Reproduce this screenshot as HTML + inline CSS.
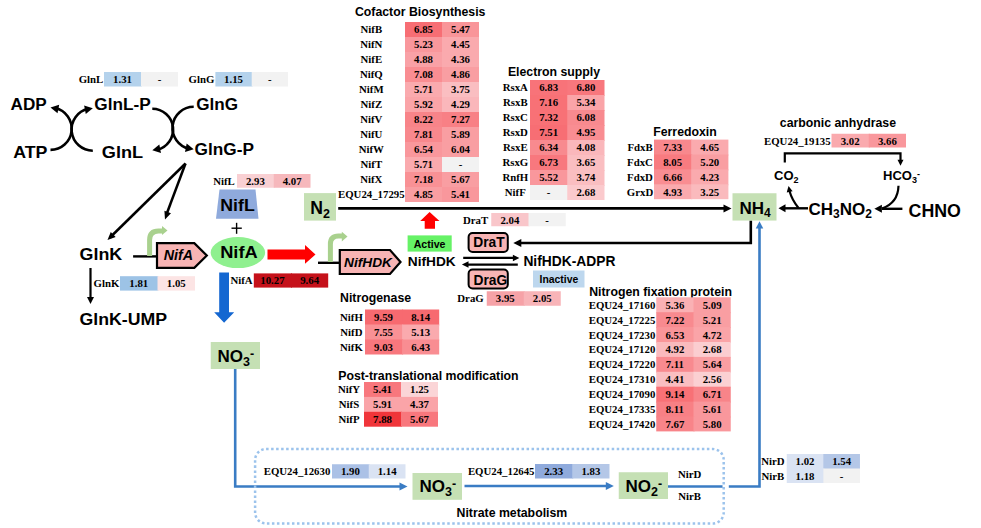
<!DOCTYPE html>
<html><head><meta charset="utf-8"><style>
html,body{margin:0;padding:0;background:#fff;width:981px;height:528px;overflow:hidden}
svg{display:block}
</style></head><body>
<svg width="981" height="528" viewBox="0 0 981 528">
<rect x="0" y="0" width="981" height="528" fill="#fff" />
<rect x="104" y="72.0" width="38.0" height="14.5" fill="#b4d2ec" />
<rect x="141" y="72.0" width="37" height="14.5" fill="#f2f2f2" />
<text x="91" y="83.21400000000001" font-family="'Liberation Serif', serif" font-size="10.8" font-weight="bold" font-style="normal" text-anchor="middle" fill="#000" >GlnL</text>
<text x="122.5" y="83.21400000000001" font-family="'Liberation Serif', serif" font-size="10.8" font-weight="bold" font-style="normal" text-anchor="middle" fill="#000" >1.31</text>
<text x="159.5" y="83.21400000000001" font-family="'Liberation Serif', serif" font-size="10.8" font-weight="bold" font-style="normal" text-anchor="middle" fill="#000" >-</text>
<rect x="215.4" y="72.0" width="37.3" height="14.5" fill="#b4d2ec" />
<rect x="251.7" y="72.0" width="36.3" height="14.5" fill="#f2f2f2" />
<text x="201.5" y="83.21400000000001" font-family="'Liberation Serif', serif" font-size="10.8" font-weight="bold" font-style="normal" text-anchor="middle" fill="#000" >GlnG</text>
<text x="233.55" y="83.21400000000001" font-family="'Liberation Serif', serif" font-size="10.8" font-weight="bold" font-style="normal" text-anchor="middle" fill="#000" >1.15</text>
<text x="269.85" y="83.21400000000001" font-family="'Liberation Serif', serif" font-size="10.8" font-weight="bold" font-style="normal" text-anchor="middle" fill="#000" >-</text>
<text transform="translate(10.6,110) scale(1.02,1)" font-family="'Liberation Sans', sans-serif" font-size="16.8" font-weight="bold" font-style="normal" text-anchor="start" fill="#000" >ADP</text>
<text transform="translate(94.3,110) scale(1.025,1)" font-family="'Liberation Sans', sans-serif" font-size="16.8" font-weight="bold" font-style="normal" text-anchor="start" fill="#000" >GlnL-P</text>
<text transform="translate(196.3,110) scale(1.02,1)" font-family="'Liberation Sans', sans-serif" font-size="16.8" font-weight="bold" font-style="normal" text-anchor="start" fill="#000" >GlnG</text>
<text transform="translate(13.2,158) scale(1.06,1)" font-family="'Liberation Sans', sans-serif" font-size="16.8" font-weight="bold" font-style="normal" text-anchor="start" fill="#000" >ATP</text>
<text transform="translate(101.8,158) scale(1.08,1)" font-family="'Liberation Sans', sans-serif" font-size="16.8" font-weight="bold" font-style="normal" text-anchor="start" fill="#000" >GlnL</text>
<text transform="translate(194.6,154.7) scale(1.025,1)" font-family="'Liberation Sans', sans-serif" font-size="16.8" font-weight="bold" font-style="normal" text-anchor="start" fill="#000" >GlnG-P</text>
<path d="M50.50,149.90 A21.2,21.2 0 0 0 55.26,108.04" stroke="#000" stroke-width="2.6" fill="none" />
<polygon points="50.50,107.50 59.18,104.68 57.53,113.32" fill="#000"/>
<path d="M92.80,150.70 A21.2,21.2 0 0 1 88.04,108.84" stroke="#000" stroke-width="2.6" fill="none" />
<polygon points="92.80,108.30 85.77,114.12 84.12,105.48" fill="#000"/>
<path d="M152.30,108.70 A20.8,20.8 0 0 1 157.06,149.75" stroke="#000" stroke-width="2.6" fill="none" />
<polygon points="152.30,150.30 159.31,144.45 160.99,153.09" fill="#000"/>
<path d="M193.70,106.80 A21.2,21.2 0 0 0 188.94,148.66" stroke="#000" stroke-width="2.6" fill="none" />
<polygon points="193.70,149.20 185.02,152.02 186.67,143.38" fill="#000"/>
<line x1="185.5" y1="163.5" x2="110" y2="237.5" stroke="#000" stroke-width="2.5" />
<polygon points="107.50,240.00 110.76,231.90 115.66,236.90" fill="#000"/>
<line x1="185.5" y1="163.5" x2="167" y2="213" stroke="#000" stroke-width="2.5" />
<polygon points="165.00,219.50 164.42,210.79 171.00,213.16" fill="#000"/>
<text transform="translate(79.5,260) scale(1.065,1)" font-family="'Liberation Sans', sans-serif" font-size="16.8" font-weight="bold" font-style="normal" text-anchor="start" fill="#000" >GlnK</text>
<line x1="90.5" y1="268" x2="90.5" y2="297" stroke="#000" stroke-width="2.2" />
<polygon points="90.50,304.00 87.00,297.00 94.00,297.00" fill="#000"/>
<rect x="120" y="276.2" width="38.5" height="14.4" fill="#9dc3e6" />
<rect x="157.5" y="276.2" width="37.5" height="14.4" fill="#fce4e4" />
<text x="106.5" y="287.364" font-family="'Liberation Serif', serif" font-size="10.8" font-weight="bold" font-style="normal" text-anchor="middle" fill="#000" >GlnK</text>
<text x="138.75" y="287.364" font-family="'Liberation Serif', serif" font-size="10.8" font-weight="bold" font-style="normal" text-anchor="middle" fill="#000" >1.81</text>
<text x="176.25" y="287.364" font-family="'Liberation Serif', serif" font-size="10.8" font-weight="bold" font-style="normal" text-anchor="middle" fill="#000" >1.05</text>
<text transform="translate(79.5,324.5) scale(1.055,1)" font-family="'Liberation Sans', sans-serif" font-size="16.8" font-weight="bold" font-style="normal" text-anchor="start" fill="#000" >GlnK-UMP</text>
<line x1="133.1" y1="256.4" x2="156" y2="256.4" stroke="#000" stroke-width="2.4" />
<path d="M149.6,256 L149.6,240 Q149.6,231 158.5,231 L163,231" stroke="#a9d18e" stroke-width="5" fill="none" />
<polygon points="167.5,230.5 162,226 162,235" fill="#a9d18e"/>
<polygon points="157,243.2 194.3,243.2 206.8,255.5 194.3,267.8 157,267.8" fill="#f8b4b4" stroke="#000" stroke-width="2.2" stroke-linejoin="miter"/>
<text x="178.4" y="259.6" font-family="'Liberation Sans', sans-serif" font-size="14.3" font-weight="bold" font-style="italic" text-anchor="middle" fill="#000" >NifA</text>
<rect x="237" y="174.0" width="37.75" height="13.75" fill="#f9d0d3" />
<rect x="273.75" y="174.0" width="36.75" height="13.75" fill="#f6b8bc" />
<text x="224" y="184.839" font-family="'Liberation Serif', serif" font-size="10.8" font-weight="bold" font-style="normal" text-anchor="middle" fill="#000" >NifL</text>
<text x="255.375" y="184.839" font-family="'Liberation Serif', serif" font-size="10.8" font-weight="bold" font-style="normal" text-anchor="middle" fill="#000" >2.93</text>
<text x="292.125" y="184.839" font-family="'Liberation Serif', serif" font-size="10.8" font-weight="bold" font-style="normal" text-anchor="middle" fill="#000" >4.07</text>
<polygon points="219.5,189.5 255.5,189.5 258.5,218.75 216,218.75" fill="#8faadc"/>
<text transform="translate(237.5,211.3) scale(1.02,1)" font-family="'Liberation Sans', sans-serif" font-size="17.4" font-weight="bold" font-style="normal" text-anchor="middle" fill="#000" >NifL</text>
<line x1="231.5" y1="228.2" x2="241.8" y2="228.2" stroke="#000" stroke-width="1.4" />
<line x1="236.6" y1="222.8" x2="236.6" y2="233.8" stroke="#000" stroke-width="1.4" />
<ellipse cx="237.9" cy="252.6" rx="27.2" ry="15.5" fill="#8ff08f"/>
<text transform="translate(238.9,257.9) scale(1.05,1)" font-family="'Liberation Sans', sans-serif" font-size="17.4" font-weight="bold" font-style="normal" text-anchor="middle" fill="#000" >NifA</text>
<polygon points="267.5,249.5 305,249.5 305,245 315.5,254.5 305,263.8 305,259.5 267.5,259.5" fill="#ff0000"/>
<rect x="253.8" y="273.4" width="38.2" height="14.2" fill="#c5111a" />
<rect x="291.0" y="273.4" width="37.2" height="14.2" fill="#c5111a" />
<text x="241.5" y="284.464" font-family="'Liberation Serif', serif" font-size="10.8" font-weight="bold" font-style="normal" text-anchor="middle" fill="#000" >NifA</text>
<text x="272.40000000000003" y="284.464" font-family="'Liberation Serif', serif" font-size="10.8" font-weight="bold" font-style="normal" text-anchor="middle" fill="#000" >10.27</text>
<text x="309.6" y="284.464" font-family="'Liberation Serif', serif" font-size="10.8" font-weight="bold" font-style="normal" text-anchor="middle" fill="#000" >9.64</text>
<polygon points="219.2,272.4 229,272.4 229,312.2 234.2,312.2 224.1,322.7 214.2,312.2 219.2,312.2" fill="#1467d1"/>
<rect x="304" y="193.1" width="32" height="27.5" fill="#c5e0b4" />
<text x="310.3" y="214" font-family="'Liberation Sans', sans-serif" font-size="17.6" font-weight="bold" font-style="normal" text-anchor="start" fill="#000" >N<tspan font-size="12.5" dy="4.2">2</tspan></text>
<line x1="338.2" y1="208.4" x2="725" y2="208.4" stroke="#000" stroke-width="2.6" />
<polygon points="731.50,208.40 723.50,212.40 723.50,204.40" fill="#000"/>
<line x1="318" y1="262.8" x2="339" y2="262.8" stroke="#000" stroke-width="2.4" />
<path d="M330.4,262 L330.4,244 Q330.4,236 338.5,236 L342.5,236" stroke="#a9d18e" stroke-width="5" fill="none" />
<polygon points="347.5,236.5 341.8,231.7 341.8,241.5" fill="#a9d18e"/>
<polygon points="339.8,250 390,250 400.5,262 390,274 339.8,274" fill="#f8b4b4" stroke="#000" stroke-width="2.2"/>
<text x="368" y="266.9" font-family="'Liberation Sans', sans-serif" font-size="13.7" font-weight="bold" font-style="italic" text-anchor="middle" fill="#000" >NifHDK</text>
<polygon points="429.6,212 439.5,221 435,221 435,228.7 424.7,228.7 424.7,221 420.2,221" fill="#ff0000"/>
<rect x="407.6" y="235.4" width="44.1" height="16.2" fill="#66f266" />
<text x="429.6" y="248" font-family="'Liberation Sans', sans-serif" font-size="10.6" font-weight="bold" font-style="normal" text-anchor="middle" fill="#000" >Active</text>
<text x="431.8" y="266.2" font-family="'Liberation Sans', sans-serif" font-size="13.7" font-weight="bold" font-style="normal" text-anchor="middle" fill="#000" >NifHDK</text>
<rect x="491.25" y="213.0" width="38.25" height="13.25" fill="#f9c6ca" />
<rect x="528.5" y="213.0" width="37.25" height="13.25" fill="#f2f2f2" />
<text x="475.6" y="223.589" font-family="'Liberation Serif', serif" font-size="10.8" font-weight="bold" font-style="normal" text-anchor="middle" fill="#000" >DraT</text>
<text x="509.875" y="223.589" font-family="'Liberation Serif', serif" font-size="10.8" font-weight="bold" font-style="normal" text-anchor="middle" fill="#000" >2.04</text>
<text x="547.125" y="223.589" font-family="'Liberation Serif', serif" font-size="10.8" font-weight="bold" font-style="normal" text-anchor="middle" fill="#000" >-</text>
<rect x="468.6" y="233" width="39.2" height="19" rx="4" fill="#f8b4b4" stroke="#000" stroke-width="2"/>
<text x="488.9" y="247" font-family="'Liberation Sans', sans-serif" font-size="13.8" font-weight="bold" font-style="normal" text-anchor="middle" fill="#000" >DraT</text>
<rect x="468.6" y="269.5" width="39.2" height="19" rx="4" fill="#f8b4b4" stroke="#000" stroke-width="2"/>
<text x="490.4" y="284.5" font-family="'Liberation Sans', sans-serif" font-size="13.8" font-weight="bold" font-style="normal" text-anchor="middle" fill="#000" >DraG</text>
<line x1="463.2" y1="257.9" x2="513" y2="257.9" stroke="#000" stroke-width="2.2" />
<polygon points="519.4,257.9 512.9,254.8 512.9,261.3" fill="#000"/>
<line x1="517.8" y1="264.6" x2="468" y2="264.6" stroke="#000" stroke-width="2.2" />
<polygon points="461.9,264.6 468.5,261.3 468.5,267.8" fill="#000"/>
<text x="569.4" y="266.25" font-family="'Liberation Sans', sans-serif" font-size="13.8" font-weight="bold" font-style="normal" text-anchor="middle" fill="#000" >NifHDK-ADPR</text>
<rect x="533" y="270.5" width="51.5" height="17" fill="#bdd7ee" />
<text x="558.9" y="282.5" font-family="'Liberation Sans', sans-serif" font-size="10.4" font-weight="bold" font-style="normal" text-anchor="middle" fill="#000" >Inactive</text>
<rect x="486.75" y="291.25" width="38.0" height="14.5" fill="#f6a2a7" />
<rect x="523.75" y="291.25" width="37" height="14.5" fill="#f8b4b8" />
<text x="470.5" y="302.464" font-family="'Liberation Serif', serif" font-size="10.8" font-weight="bold" font-style="normal" text-anchor="middle" fill="#000" >DraG</text>
<text x="505.25" y="302.464" font-family="'Liberation Serif', serif" font-size="10.8" font-weight="bold" font-style="normal" text-anchor="middle" fill="#000" >3.95</text>
<text x="542.25" y="302.464" font-family="'Liberation Serif', serif" font-size="10.8" font-weight="bold" font-style="normal" text-anchor="middle" fill="#000" >2.05</text>
<path d="M750.8,220.5 L750.8,243 L520,243" stroke="#000" stroke-width="2.6" fill="none" />
<polygon points="513.30,243.00 521.30,239.00 521.30,247.00" fill="#000"/>
<text x="420.2" y="16" font-family="'Liberation Sans', sans-serif" font-size="12.3" font-weight="bold" font-style="normal" text-anchor="middle" fill="#000" >Cofactor Biosynthesis</text>
<rect x="405" y="22" width="38.0" height="16.0" fill="rgb(247,110,116)" />
<rect x="442" y="22" width="37" height="16.0" fill="rgb(249,149,153)" />
<text x="371.3" y="33.464" font-family="'Liberation Serif', serif" font-size="10.8" font-weight="bold" font-style="normal" text-anchor="middle" fill="#000" >NifB</text>
<text x="423.5" y="33.464" font-family="'Liberation Serif', serif" font-size="10.8" font-weight="bold" font-style="normal" text-anchor="middle" fill="#000" >6.85</text>
<text x="460.5" y="33.464" font-family="'Liberation Serif', serif" font-size="10.8" font-weight="bold" font-style="normal" text-anchor="middle" fill="#000" >5.47</text>
<rect x="405" y="37" width="38.0" height="16.0" fill="rgb(249,151,156)" />
<rect x="442" y="37" width="37" height="16.0" fill="rgb(250,170,174)" />
<text x="371.3" y="48.464" font-family="'Liberation Serif', serif" font-size="10.8" font-weight="bold" font-style="normal" text-anchor="middle" fill="#000" >NifN</text>
<text x="423.5" y="48.464" font-family="'Liberation Serif', serif" font-size="10.8" font-weight="bold" font-style="normal" text-anchor="middle" fill="#000" >5.23</text>
<text x="460.5" y="48.464" font-family="'Liberation Serif', serif" font-size="10.8" font-weight="bold" font-style="normal" text-anchor="middle" fill="#000" >4.45</text>
<rect x="405" y="52" width="38.0" height="16.0" fill="rgb(249,161,166)" />
<rect x="442" y="52" width="37" height="16.0" fill="rgb(250,170,174)" />
<text x="371.3" y="63.464" font-family="'Liberation Serif', serif" font-size="10.8" font-weight="bold" font-style="normal" text-anchor="middle" fill="#000" >NifE</text>
<text x="423.5" y="63.464" font-family="'Liberation Serif', serif" font-size="10.8" font-weight="bold" font-style="normal" text-anchor="middle" fill="#000" >4.88</text>
<text x="460.5" y="63.464" font-family="'Liberation Serif', serif" font-size="10.8" font-weight="bold" font-style="normal" text-anchor="middle" fill="#000" >4.36</text>
<rect x="405" y="67" width="38.0" height="16.0" fill="rgb(249,141,146)" />
<rect x="442" y="67" width="37" height="16.0" fill="rgb(249,158,162)" />
<text x="371.3" y="78.46400000000001" font-family="'Liberation Serif', serif" font-size="10.8" font-weight="bold" font-style="normal" text-anchor="middle" fill="#000" >NifQ</text>
<text x="423.5" y="78.46400000000001" font-family="'Liberation Serif', serif" font-size="10.8" font-weight="bold" font-style="normal" text-anchor="middle" fill="#000" >7.08</text>
<text x="460.5" y="78.46400000000001" font-family="'Liberation Serif', serif" font-size="10.8" font-weight="bold" font-style="normal" text-anchor="middle" fill="#000" >4.86</text>
<rect x="405" y="82" width="38.0" height="16.0" fill="rgb(250,170,174)" />
<rect x="442" y="82" width="37" height="16.0" fill="rgb(250,190,193)" />
<text x="371.3" y="93.46400000000001" font-family="'Liberation Serif', serif" font-size="10.8" font-weight="bold" font-style="normal" text-anchor="middle" fill="#000" >NifM</text>
<text x="423.5" y="93.46400000000001" font-family="'Liberation Serif', serif" font-size="10.8" font-weight="bold" font-style="normal" text-anchor="middle" fill="#000" >5.71</text>
<text x="460.5" y="93.46400000000001" font-family="'Liberation Serif', serif" font-size="10.8" font-weight="bold" font-style="normal" text-anchor="middle" fill="#000" >3.75</text>
<rect x="405" y="97" width="38.0" height="16.0" fill="rgb(250,164,168)" />
<rect x="442" y="97" width="37" height="16.0" fill="rgb(250,183,187)" />
<text x="371.3" y="108.46400000000001" font-family="'Liberation Serif', serif" font-size="10.8" font-weight="bold" font-style="normal" text-anchor="middle" fill="#000" >NifZ</text>
<text x="423.5" y="108.46400000000001" font-family="'Liberation Serif', serif" font-size="10.8" font-weight="bold" font-style="normal" text-anchor="middle" fill="#000" >5.92</text>
<text x="460.5" y="108.46400000000001" font-family="'Liberation Serif', serif" font-size="10.8" font-weight="bold" font-style="normal" text-anchor="middle" fill="#000" >4.29</text>
<rect x="405" y="112" width="38.0" height="16.0" fill="rgb(248,132,137)" />
<rect x="442" y="112" width="37" height="16.0" fill="rgb(248,128,133)" />
<text x="371.3" y="123.46400000000001" font-family="'Liberation Serif', serif" font-size="10.8" font-weight="bold" font-style="normal" text-anchor="middle" fill="#000" >NifV</text>
<text x="423.5" y="123.46400000000001" font-family="'Liberation Serif', serif" font-size="10.8" font-weight="bold" font-style="normal" text-anchor="middle" fill="#000" >8.22</text>
<text x="460.5" y="123.46400000000001" font-family="'Liberation Serif', serif" font-size="10.8" font-weight="bold" font-style="normal" text-anchor="middle" fill="#000" >7.27</text>
<rect x="405" y="127" width="38.0" height="16.0" fill="rgb(248,136,141)" />
<rect x="442" y="127" width="37" height="16.0" fill="rgb(249,158,162)" />
<text x="371.3" y="138.464" font-family="'Liberation Serif', serif" font-size="10.8" font-weight="bold" font-style="normal" text-anchor="middle" fill="#000" >NifU</text>
<text x="423.5" y="138.464" font-family="'Liberation Serif', serif" font-size="10.8" font-weight="bold" font-style="normal" text-anchor="middle" fill="#000" >7.81</text>
<text x="460.5" y="138.464" font-family="'Liberation Serif', serif" font-size="10.8" font-weight="bold" font-style="normal" text-anchor="middle" fill="#000" >5.89</text>
<rect x="405" y="142" width="38.0" height="16.0" fill="rgb(249,151,156)" />
<rect x="442" y="142" width="37" height="16.0" fill="rgb(249,158,162)" />
<text x="371.3" y="153.464" font-family="'Liberation Serif', serif" font-size="10.8" font-weight="bold" font-style="normal" text-anchor="middle" fill="#000" >NifW</text>
<text x="423.5" y="153.464" font-family="'Liberation Serif', serif" font-size="10.8" font-weight="bold" font-style="normal" text-anchor="middle" fill="#000" >6.54</text>
<text x="460.5" y="153.464" font-family="'Liberation Serif', serif" font-size="10.8" font-weight="bold" font-style="normal" text-anchor="middle" fill="#000" >6.04</text>
<rect x="405" y="157" width="38.0" height="16.0" fill="rgb(250,170,174)" />
<rect x="442" y="157" width="37" height="16.0" fill="#f2f2f2" />
<text x="371.3" y="168.464" font-family="'Liberation Serif', serif" font-size="10.8" font-weight="bold" font-style="normal" text-anchor="middle" fill="#000" >NifT</text>
<text x="423.5" y="168.464" font-family="'Liberation Serif', serif" font-size="10.8" font-weight="bold" font-style="normal" text-anchor="middle" fill="#000" >5.71</text>
<text x="460.5" y="168.464" font-family="'Liberation Serif', serif" font-size="10.8" font-weight="bold" font-style="normal" text-anchor="middle" fill="#000" >-</text>
<rect x="405" y="172" width="38.0" height="16.0" fill="rgb(249,145,149)" />
<rect x="442" y="172" width="37" height="16.0" fill="rgb(249,158,162)" />
<text x="371.3" y="183.464" font-family="'Liberation Serif', serif" font-size="10.8" font-weight="bold" font-style="normal" text-anchor="middle" fill="#000" >NifX</text>
<text x="423.5" y="183.464" font-family="'Liberation Serif', serif" font-size="10.8" font-weight="bold" font-style="normal" text-anchor="middle" fill="#000" >7.18</text>
<text x="460.5" y="183.464" font-family="'Liberation Serif', serif" font-size="10.8" font-weight="bold" font-style="normal" text-anchor="middle" fill="#000" >5.67</text>
<rect x="405" y="187" width="38.0" height="15" fill="rgb(249,158,162)" />
<rect x="442" y="187" width="37" height="15" fill="rgb(249,151,156)" />
<text x="371.3" y="198.464" font-family="'Liberation Serif', serif" font-size="10.8" font-weight="bold" font-style="normal" text-anchor="middle" fill="#000" >EQU24_17295</text>
<text x="423.5" y="198.464" font-family="'Liberation Serif', serif" font-size="10.8" font-weight="bold" font-style="normal" text-anchor="middle" fill="#000" >4.85</text>
<text x="460.5" y="198.464" font-family="'Liberation Serif', serif" font-size="10.8" font-weight="bold" font-style="normal" text-anchor="middle" fill="#000" >5.41</text>
<text x="554" y="76.25" font-family="'Liberation Sans', sans-serif" font-size="12.3" font-weight="bold" font-style="normal" text-anchor="middle" fill="#000" >Electron supply</text>
<rect x="530" y="80.0" width="38.25" height="16.0" fill="rgb(248,115,121)" />
<rect x="567.25" y="80.0" width="37.25" height="16.0" fill="rgb(248,119,125)" />
<text x="515.3" y="91.46400000000001" font-family="'Liberation Serif', serif" font-size="10.8" font-weight="bold" font-style="normal" text-anchor="middle" fill="#000" >RsxA</text>
<text x="548.625" y="91.46400000000001" font-family="'Liberation Serif', serif" font-size="10.8" font-weight="bold" font-style="normal" text-anchor="middle" fill="#000" >6.83</text>
<text x="585.875" y="91.46400000000001" font-family="'Liberation Serif', serif" font-size="10.8" font-weight="bold" font-style="normal" text-anchor="middle" fill="#000" >6.80</text>
<rect x="530" y="95.0" width="38.25" height="16.0" fill="rgb(248,113,118)" />
<rect x="567.25" y="95.0" width="37.25" height="16.0" fill="rgb(250,164,168)" />
<text x="515.3" y="106.46400000000001" font-family="'Liberation Serif', serif" font-size="10.8" font-weight="bold" font-style="normal" text-anchor="middle" fill="#000" >RsxB</text>
<text x="548.625" y="106.46400000000001" font-family="'Liberation Serif', serif" font-size="10.8" font-weight="bold" font-style="normal" text-anchor="middle" fill="#000" >7.16</text>
<text x="585.875" y="106.46400000000001" font-family="'Liberation Serif', serif" font-size="10.8" font-weight="bold" font-style="normal" text-anchor="middle" fill="#000" >5.34</text>
<rect x="530" y="110.0" width="38.25" height="16.0" fill="rgb(248,113,118)" />
<rect x="567.25" y="110.0" width="37.25" height="16.0" fill="rgb(248,138,143)" />
<text x="515.3" y="121.46400000000001" font-family="'Liberation Serif', serif" font-size="10.8" font-weight="bold" font-style="normal" text-anchor="middle" fill="#000" >RsxC</text>
<text x="548.625" y="121.46400000000001" font-family="'Liberation Serif', serif" font-size="10.8" font-weight="bold" font-style="normal" text-anchor="middle" fill="#000" >7.32</text>
<text x="585.875" y="121.46400000000001" font-family="'Liberation Serif', serif" font-size="10.8" font-weight="bold" font-style="normal" text-anchor="middle" fill="#000" >6.08</text>
<rect x="530" y="125.0" width="38.25" height="16.0" fill="rgb(247,110,116)" />
<rect x="567.25" y="125.0" width="37.25" height="16.0" fill="rgb(249,141,146)" />
<text x="515.3" y="136.464" font-family="'Liberation Serif', serif" font-size="10.8" font-weight="bold" font-style="normal" text-anchor="middle" fill="#000" >RsxD</text>
<text x="548.625" y="136.464" font-family="'Liberation Serif', serif" font-size="10.8" font-weight="bold" font-style="normal" text-anchor="middle" fill="#000" >7.51</text>
<text x="585.875" y="136.464" font-family="'Liberation Serif', serif" font-size="10.8" font-weight="bold" font-style="normal" text-anchor="middle" fill="#000" >4.95</text>
<rect x="530" y="140.0" width="38.25" height="16.0" fill="rgb(248,138,143)" />
<rect x="567.25" y="140.0" width="37.25" height="16.0" fill="rgb(250,183,187)" />
<text x="515.3" y="151.464" font-family="'Liberation Serif', serif" font-size="10.8" font-weight="bold" font-style="normal" text-anchor="middle" fill="#000" >RsxE</text>
<text x="548.625" y="151.464" font-family="'Liberation Serif', serif" font-size="10.8" font-weight="bold" font-style="normal" text-anchor="middle" fill="#000" >6.34</text>
<text x="585.875" y="151.464" font-family="'Liberation Serif', serif" font-size="10.8" font-weight="bold" font-style="normal" text-anchor="middle" fill="#000" >4.08</text>
<rect x="530" y="155.0" width="38.25" height="16.0" fill="rgb(248,120,126)" />
<rect x="567.25" y="155.0" width="37.25" height="16.0" fill="rgb(250,190,193)" />
<text x="515.3" y="166.464" font-family="'Liberation Serif', serif" font-size="10.8" font-weight="bold" font-style="normal" text-anchor="middle" fill="#000" >RsxG</text>
<text x="548.625" y="166.464" font-family="'Liberation Serif', serif" font-size="10.8" font-weight="bold" font-style="normal" text-anchor="middle" fill="#000" >6.73</text>
<text x="585.875" y="166.464" font-family="'Liberation Serif', serif" font-size="10.8" font-weight="bold" font-style="normal" text-anchor="middle" fill="#000" >3.65</text>
<rect x="530" y="170.0" width="38.25" height="16.0" fill="rgb(249,151,156)" />
<rect x="567.25" y="170.0" width="37.25" height="16.0" fill="rgb(250,190,193)" />
<text x="515.3" y="181.464" font-family="'Liberation Serif', serif" font-size="10.8" font-weight="bold" font-style="normal" text-anchor="middle" fill="#000" >RnfH</text>
<text x="548.625" y="181.464" font-family="'Liberation Serif', serif" font-size="10.8" font-weight="bold" font-style="normal" text-anchor="middle" fill="#000" >5.52</text>
<text x="585.875" y="181.464" font-family="'Liberation Serif', serif" font-size="10.8" font-weight="bold" font-style="normal" text-anchor="middle" fill="#000" >3.74</text>
<rect x="530" y="185.0" width="38.25" height="15.0" fill="#f2f2f2" />
<rect x="567.25" y="185.0" width="37.25" height="15.0" fill="rgb(251,202,205)" />
<text x="515.3" y="196.464" font-family="'Liberation Serif', serif" font-size="10.8" font-weight="bold" font-style="normal" text-anchor="middle" fill="#000" >NifF</text>
<text x="548.625" y="196.464" font-family="'Liberation Serif', serif" font-size="10.8" font-weight="bold" font-style="normal" text-anchor="middle" fill="#000" >-</text>
<text x="585.875" y="196.464" font-family="'Liberation Serif', serif" font-size="10.8" font-weight="bold" font-style="normal" text-anchor="middle" fill="#000" >2.68</text>
<text x="685" y="135.5" font-family="'Liberation Sans', sans-serif" font-size="12.3" font-weight="bold" font-style="normal" text-anchor="middle" fill="#000" >Ferredoxin</text>
<rect x="654" y="139.6" width="38.2" height="15.9" fill="rgb(248,136,141)" />
<rect x="691.2" y="139.6" width="37.2" height="15.9" fill="rgb(250,170,174)" />
<text x="640" y="151.01399999999998" font-family="'Liberation Serif', serif" font-size="10.8" font-weight="bold" font-style="normal" text-anchor="middle" fill="#000" >FdxB</text>
<text x="672.6" y="151.01399999999998" font-family="'Liberation Serif', serif" font-size="10.8" font-weight="bold" font-style="normal" text-anchor="middle" fill="#000" >7.33</text>
<text x="709.8" y="151.01399999999998" font-family="'Liberation Serif', serif" font-size="10.8" font-weight="bold" font-style="normal" text-anchor="middle" fill="#000" >4.65</text>
<rect x="654" y="154.5" width="38.2" height="15.9" fill="rgb(248,123,128)" />
<rect x="691.2" y="154.5" width="37.2" height="15.9" fill="rgb(249,158,162)" />
<text x="640" y="165.914" font-family="'Liberation Serif', serif" font-size="10.8" font-weight="bold" font-style="normal" text-anchor="middle" fill="#000" >FdxC</text>
<text x="672.6" y="165.914" font-family="'Liberation Serif', serif" font-size="10.8" font-weight="bold" font-style="normal" text-anchor="middle" fill="#000" >8.05</text>
<text x="709.8" y="165.914" font-family="'Liberation Serif', serif" font-size="10.8" font-weight="bold" font-style="normal" text-anchor="middle" fill="#000" >5.20</text>
<rect x="654" y="169.4" width="38.2" height="15.9" fill="rgb(249,141,146)" />
<rect x="691.2" y="169.4" width="37.2" height="15.9" fill="rgb(250,170,174)" />
<text x="640" y="180.814" font-family="'Liberation Serif', serif" font-size="10.8" font-weight="bold" font-style="normal" text-anchor="middle" fill="#000" >FdxD</text>
<text x="672.6" y="180.814" font-family="'Liberation Serif', serif" font-size="10.8" font-weight="bold" font-style="normal" text-anchor="middle" fill="#000" >6.66</text>
<text x="709.8" y="180.814" font-family="'Liberation Serif', serif" font-size="10.8" font-weight="bold" font-style="normal" text-anchor="middle" fill="#000" >4.23</text>
<rect x="654" y="184.3" width="38.2" height="14.9" fill="rgb(250,170,174)" />
<rect x="691.2" y="184.3" width="37.2" height="14.9" fill="rgb(250,186,189)" />
<text x="640" y="195.714" font-family="'Liberation Serif', serif" font-size="10.8" font-weight="bold" font-style="normal" text-anchor="middle" fill="#000" >GrxD</text>
<text x="672.6" y="195.714" font-family="'Liberation Serif', serif" font-size="10.8" font-weight="bold" font-style="normal" text-anchor="middle" fill="#000" >4.93</text>
<text x="709.8" y="195.714" font-family="'Liberation Serif', serif" font-size="10.8" font-weight="bold" font-style="normal" text-anchor="middle" fill="#000" >3.25</text>
<text x="837.9" y="126.75" font-family="'Liberation Sans', sans-serif" font-size="12.3" font-weight="bold" font-style="normal" text-anchor="middle" fill="#000" >carbonic anhydrase</text>
<rect x="831.5" y="133.75" width="38.25" height="13.75" fill="rgb(250,170,174)" />
<rect x="868.75" y="133.75" width="37.25" height="13.75" fill="rgb(249,151,156)" />
<text x="797.3" y="144.589" font-family="'Liberation Serif', serif" font-size="10.8" font-weight="bold" font-style="normal" text-anchor="middle" fill="#000" >EQU24_19135</text>
<text x="850.125" y="144.589" font-family="'Liberation Serif', serif" font-size="10.8" font-weight="bold" font-style="normal" text-anchor="middle" fill="#000" >3.02</text>
<text x="887.375" y="144.589" font-family="'Liberation Serif', serif" font-size="10.8" font-weight="bold" font-style="normal" text-anchor="middle" fill="#000" >3.66</text>
<path d="M784.8,162.5 L784.8,153.3 L900.5,153.3 L900.5,160" stroke="#000" stroke-width="2.2" fill="none" />
<polygon points="900.50,165.80 897.50,159.80 903.50,159.80" fill="#000"/>
<text x="774" y="180" font-family="'Liberation Sans', sans-serif" font-size="13" font-weight="bold" font-style="normal" text-anchor="start" fill="#000" >CO<tspan font-size="9" dy="3">2</tspan></text>
<text x="883" y="180" font-family="'Liberation Sans', sans-serif" font-size="13" font-weight="bold" font-style="normal" text-anchor="start" fill="#000" >HCO<tspan font-size="9" dy="3">3</tspan><tspan font-size="9" dy="-6.2">-</tspan></text>
<rect x="732.5" y="193.25" width="44" height="27.3" fill="#c5e0b4" />
<text x="739.5" y="213.75" font-family="'Liberation Sans', sans-serif" font-size="17" font-weight="bold" font-style="normal" text-anchor="start" fill="#000" >NH<tspan font-size="12" dy="3.5">4</tspan></text>
<text x="808.5" y="214.5" font-family="'Liberation Sans', sans-serif" font-size="17" font-weight="bold" font-style="normal" text-anchor="start" fill="#000" >CH<tspan font-size="12" dy="3.5">3</tspan><tspan dy="-3.5">NO</tspan><tspan font-size="12" dy="3.5">2</tspan></text>
<text x="908.6" y="216.6" font-family="'Liberation Sans', sans-serif" font-size="17.8" font-weight="bold" font-style="normal" text-anchor="start" fill="#000" >CHNO</text>
<line x1="808" y1="208.3" x2="784" y2="208.3" stroke="#000" stroke-width="2.4" />
<polygon points="778.50,208.30 785.50,204.30 785.50,212.30" fill="#000"/>
<path d="M798.5,208 Q792,200 789.5,191" stroke="#000" stroke-width="2.2" fill="none" />
<polygon points="788.50,186.00 792.62,191.30 786.73,192.47" fill="#000"/>
<line x1="902.4" y1="208.8" x2="882" y2="208.8" stroke="#000" stroke-width="2.4" />
<polygon points="874.40,208.80 881.90,204.80 881.90,212.80" fill="#000"/>
<path d="M898.5,185.8 Q898,203 882,208.5" stroke="#000" stroke-width="2.2" fill="none" />
<text x="375.6" y="302" font-family="'Liberation Sans', sans-serif" font-size="12.3" font-weight="bold" font-style="normal" text-anchor="middle" fill="#000" >Nitrogenase</text>
<rect x="365" y="309.5" width="38.1" height="16.0" fill="rgb(247,106,112)" />
<rect x="402.1" y="309.5" width="37.1" height="16.0" fill="rgb(247,106,112)" />
<text x="351.4" y="320.964" font-family="'Liberation Serif', serif" font-size="10.8" font-weight="bold" font-style="normal" text-anchor="middle" fill="#000" >NifH</text>
<text x="383.55" y="320.964" font-family="'Liberation Serif', serif" font-size="10.8" font-weight="bold" font-style="normal" text-anchor="middle" fill="#000" >9.59</text>
<text x="420.65" y="320.964" font-family="'Liberation Serif', serif" font-size="10.8" font-weight="bold" font-style="normal" text-anchor="middle" fill="#000" >8.14</text>
<rect x="365" y="324.5" width="38.1" height="16.0" fill="rgb(249,145,149)" />
<rect x="402.1" y="324.5" width="37.1" height="16.0" fill="rgb(250,170,174)" />
<text x="351.4" y="335.964" font-family="'Liberation Serif', serif" font-size="10.8" font-weight="bold" font-style="normal" text-anchor="middle" fill="#000" >NifD</text>
<text x="383.55" y="335.964" font-family="'Liberation Serif', serif" font-size="10.8" font-weight="bold" font-style="normal" text-anchor="middle" fill="#000" >7.55</text>
<text x="420.65" y="335.964" font-family="'Liberation Serif', serif" font-size="10.8" font-weight="bold" font-style="normal" text-anchor="middle" fill="#000" >5.13</text>
<rect x="365" y="339.5" width="38.1" height="15" fill="rgb(248,119,125)" />
<rect x="402.1" y="339.5" width="37.1" height="15" fill="rgb(249,141,146)" />
<text x="351.4" y="350.964" font-family="'Liberation Serif', serif" font-size="10.8" font-weight="bold" font-style="normal" text-anchor="middle" fill="#000" >NifK</text>
<text x="383.55" y="350.964" font-family="'Liberation Serif', serif" font-size="10.8" font-weight="bold" font-style="normal" text-anchor="middle" fill="#000" >9.03</text>
<text x="420.65" y="350.964" font-family="'Liberation Serif', serif" font-size="10.8" font-weight="bold" font-style="normal" text-anchor="middle" fill="#000" >6.43</text>
<text x="428.4" y="380" font-family="'Liberation Sans', sans-serif" font-size="12.3" font-weight="bold" font-style="normal" text-anchor="middle" fill="#000" >Post-translational modification</text>
<rect x="364" y="382.0" width="38.0" height="15.9" fill="rgb(248,119,125)" />
<rect x="401" y="382.0" width="37" height="15.9" fill="rgb(251,213,215)" />
<text x="349" y="393.414" font-family="'Liberation Serif', serif" font-size="10.8" font-weight="bold" font-style="normal" text-anchor="middle" fill="#000" >NifY</text>
<text x="382.5" y="393.414" font-family="'Liberation Serif', serif" font-size="10.8" font-weight="bold" font-style="normal" text-anchor="middle" fill="#000" >5.41</text>
<text x="419.5" y="393.414" font-family="'Liberation Serif', serif" font-size="10.8" font-weight="bold" font-style="normal" text-anchor="middle" fill="#000" >1.25</text>
<rect x="364" y="396.9" width="38.0" height="15.9" fill="rgb(250,164,168)" />
<rect x="401" y="396.9" width="37" height="15.9" fill="rgb(250,164,168)" />
<text x="349" y="408.31399999999996" font-family="'Liberation Serif', serif" font-size="10.8" font-weight="bold" font-style="normal" text-anchor="middle" fill="#000" >NifS</text>
<text x="382.5" y="408.31399999999996" font-family="'Liberation Serif', serif" font-size="10.8" font-weight="bold" font-style="normal" text-anchor="middle" fill="#000" >5.91</text>
<text x="419.5" y="408.31399999999996" font-family="'Liberation Serif', serif" font-size="10.8" font-weight="bold" font-style="normal" text-anchor="middle" fill="#000" >4.37</text>
<rect x="364" y="411.8" width="38.0" height="14.9" fill="#f0353a" />
<rect x="401" y="411.8" width="37" height="14.9" fill="rgb(248,119,125)" />
<text x="349" y="423.214" font-family="'Liberation Serif', serif" font-size="10.8" font-weight="bold" font-style="normal" text-anchor="middle" fill="#000" >NifP</text>
<text x="382.5" y="423.214" font-family="'Liberation Serif', serif" font-size="10.8" font-weight="bold" font-style="normal" text-anchor="middle" fill="#000" >7.88</text>
<text x="419.5" y="423.214" font-family="'Liberation Serif', serif" font-size="10.8" font-weight="bold" font-style="normal" text-anchor="middle" fill="#000" >5.67</text>
<text x="660.6" y="295.5" font-family="'Liberation Sans', sans-serif" font-size="12.3" font-weight="bold" font-style="normal" text-anchor="middle" fill="#000" >Nitrogen fixation protein</text>
<rect x="656.25" y="297.3" width="38.25" height="15.9" fill="rgb(250,177,180)" />
<rect x="693.5" y="297.3" width="37.25" height="15.9" fill="rgb(249,158,162)" />
<text x="622" y="308.714" font-family="'Liberation Serif', serif" font-size="10.8" font-weight="bold" font-style="normal" text-anchor="middle" fill="#000" >EQU24_17160</text>
<text x="674.875" y="308.714" font-family="'Liberation Serif', serif" font-size="10.8" font-weight="bold" font-style="normal" text-anchor="middle" fill="#000" >5.36</text>
<text x="712.125" y="308.714" font-family="'Liberation Serif', serif" font-size="10.8" font-weight="bold" font-style="normal" text-anchor="middle" fill="#000" >5.09</text>
<rect x="656.25" y="312.2" width="38.25" height="15.9" fill="rgb(248,138,143)" />
<rect x="693.5" y="312.2" width="37.25" height="15.9" fill="rgb(249,158,162)" />
<text x="622" y="323.614" font-family="'Liberation Serif', serif" font-size="10.8" font-weight="bold" font-style="normal" text-anchor="middle" fill="#000" >EQU24_17225</text>
<text x="674.875" y="323.614" font-family="'Liberation Serif', serif" font-size="10.8" font-weight="bold" font-style="normal" text-anchor="middle" fill="#000" >7.22</text>
<text x="712.125" y="323.614" font-family="'Liberation Serif', serif" font-size="10.8" font-weight="bold" font-style="normal" text-anchor="middle" fill="#000" >5.21</text>
<rect x="656.25" y="327.1" width="38.25" height="15.9" fill="rgb(249,149,153)" />
<rect x="693.5" y="327.1" width="37.25" height="15.9" fill="rgb(250,164,168)" />
<text x="622" y="338.514" font-family="'Liberation Serif', serif" font-size="10.8" font-weight="bold" font-style="normal" text-anchor="middle" fill="#000" >EQU24_17230</text>
<text x="674.875" y="338.514" font-family="'Liberation Serif', serif" font-size="10.8" font-weight="bold" font-style="normal" text-anchor="middle" fill="#000" >6.53</text>
<text x="712.125" y="338.514" font-family="'Liberation Serif', serif" font-size="10.8" font-weight="bold" font-style="normal" text-anchor="middle" fill="#000" >4.72</text>
<rect x="656.25" y="342.0" width="38.25" height="15.9" fill="rgb(250,186,189)" />
<rect x="693.5" y="342.0" width="37.25" height="15.9" fill="rgb(251,205,208)" />
<text x="622" y="353.414" font-family="'Liberation Serif', serif" font-size="10.8" font-weight="bold" font-style="normal" text-anchor="middle" fill="#000" >EQU24_17120</text>
<text x="674.875" y="353.414" font-family="'Liberation Serif', serif" font-size="10.8" font-weight="bold" font-style="normal" text-anchor="middle" fill="#000" >4.92</text>
<text x="712.125" y="353.414" font-family="'Liberation Serif', serif" font-size="10.8" font-weight="bold" font-style="normal" text-anchor="middle" fill="#000" >2.68</text>
<rect x="656.25" y="356.90000000000003" width="38.25" height="15.9" fill="rgb(248,138,143)" />
<rect x="693.5" y="356.90000000000003" width="37.25" height="15.9" fill="rgb(249,158,162)" />
<text x="622" y="368.314" font-family="'Liberation Serif', serif" font-size="10.8" font-weight="bold" font-style="normal" text-anchor="middle" fill="#000" >EQU24_17220</text>
<text x="674.875" y="368.314" font-family="'Liberation Serif', serif" font-size="10.8" font-weight="bold" font-style="normal" text-anchor="middle" fill="#000" >7.11</text>
<text x="712.125" y="368.314" font-family="'Liberation Serif', serif" font-size="10.8" font-weight="bold" font-style="normal" text-anchor="middle" fill="#000" >5.64</text>
<rect x="656.25" y="371.8" width="38.25" height="15.9" fill="rgb(250,190,193)" />
<rect x="693.5" y="371.8" width="37.25" height="15.9" fill="rgb(251,208,210)" />
<text x="622" y="383.214" font-family="'Liberation Serif', serif" font-size="10.8" font-weight="bold" font-style="normal" text-anchor="middle" fill="#000" >EQU24_17310</text>
<text x="674.875" y="383.214" font-family="'Liberation Serif', serif" font-size="10.8" font-weight="bold" font-style="normal" text-anchor="middle" fill="#000" >4.41</text>
<text x="712.125" y="383.214" font-family="'Liberation Serif', serif" font-size="10.8" font-weight="bold" font-style="normal" text-anchor="middle" fill="#000" >2.56</text>
<rect x="656.25" y="386.70000000000005" width="38.25" height="15.9" fill="rgb(248,113,118)" />
<rect x="693.5" y="386.70000000000005" width="37.25" height="15.9" fill="rgb(248,132,137)" />
<text x="622" y="398.11400000000003" font-family="'Liberation Serif', serif" font-size="10.8" font-weight="bold" font-style="normal" text-anchor="middle" fill="#000" >EQU24_17090</text>
<text x="674.875" y="398.11400000000003" font-family="'Liberation Serif', serif" font-size="10.8" font-weight="bold" font-style="normal" text-anchor="middle" fill="#000" >9.14</text>
<text x="712.125" y="398.11400000000003" font-family="'Liberation Serif', serif" font-size="10.8" font-weight="bold" font-style="normal" text-anchor="middle" fill="#000" >6.71</text>
<rect x="656.25" y="401.6" width="38.25" height="15.9" fill="rgb(248,128,133)" />
<rect x="693.5" y="401.6" width="37.25" height="15.9" fill="rgb(249,151,156)" />
<text x="622" y="413.014" font-family="'Liberation Serif', serif" font-size="10.8" font-weight="bold" font-style="normal" text-anchor="middle" fill="#000" >EQU24_17335</text>
<text x="674.875" y="413.014" font-family="'Liberation Serif', serif" font-size="10.8" font-weight="bold" font-style="normal" text-anchor="middle" fill="#000" >8.11</text>
<text x="712.125" y="413.014" font-family="'Liberation Serif', serif" font-size="10.8" font-weight="bold" font-style="normal" text-anchor="middle" fill="#000" >5.61</text>
<rect x="656.25" y="416.5" width="38.25" height="14.9" fill="rgb(248,132,137)" />
<rect x="693.5" y="416.5" width="37.25" height="14.9" fill="rgb(249,151,156)" />
<text x="622" y="427.914" font-family="'Liberation Serif', serif" font-size="10.8" font-weight="bold" font-style="normal" text-anchor="middle" fill="#000" >EQU24_17420</text>
<text x="674.875" y="427.914" font-family="'Liberation Serif', serif" font-size="10.8" font-weight="bold" font-style="normal" text-anchor="middle" fill="#000" >7.67</text>
<text x="712.125" y="427.914" font-family="'Liberation Serif', serif" font-size="10.8" font-weight="bold" font-style="normal" text-anchor="middle" fill="#000" >5.80</text>
<rect x="210.75" y="342" width="49.25" height="27" fill="#c5e0b4" />
<text x="217.5" y="361.75" font-family="'Liberation Sans', sans-serif" font-size="17" font-weight="bold" font-style="normal" text-anchor="start" fill="#000" >NO<tspan font-size="12.5" dy="3.8">3</tspan><tspan font-size="12.5" dy="-8">-</tspan></text>
<path d="M235.2,369 L235.2,486.5 L401,486.5" stroke="#3a7cc4" stroke-width="2.6" fill="none" />
<polygon points="407.50,486.50 399.50,490.50 399.50,482.50" fill="#3a7cc4"/>
<rect x="255.1" y="449" width="468.6" height="74.5" rx="11" fill="none" stroke="#9cc3ec" stroke-width="2.5" stroke-dasharray="2.5 2.5" pathLength="1065"/>
<rect x="332" y="464.25" width="37.75" height="14.25" fill="#abc1e6" />
<rect x="368.75" y="464.25" width="36.75" height="14.25" fill="#dae3f3" />
<text x="297" y="475.339" font-family="'Liberation Serif', serif" font-size="10.8" font-weight="bold" font-style="normal" text-anchor="middle" fill="#000" >EQU24_12630</text>
<text x="350.375" y="475.339" font-family="'Liberation Serif', serif" font-size="10.8" font-weight="bold" font-style="normal" text-anchor="middle" fill="#000" >1.90</text>
<text x="387.125" y="475.339" font-family="'Liberation Serif', serif" font-size="10.8" font-weight="bold" font-style="normal" text-anchor="middle" fill="#000" >1.14</text>
<rect x="412.5" y="473" width="49.5" height="26.8" fill="#c5e0b4" />
<text x="419.5" y="492.25" font-family="'Liberation Sans', sans-serif" font-size="17" font-weight="bold" font-style="normal" text-anchor="start" fill="#000" >NO<tspan font-size="12.5" dy="3.8">3</tspan><tspan font-size="12.5" dy="-8">-</tspan></text>
<line x1="464.5" y1="486" x2="607" y2="486" stroke="#3a7cc4" stroke-width="2.6" />
<polygon points="613.80,486.00 605.80,490.00 605.80,482.00" fill="#3a7cc4"/>
<rect x="535" y="464.0" width="38.25" height="14.5" fill="#8faadc" />
<rect x="572.25" y="464.0" width="37.25" height="14.5" fill="#b4c7e7" />
<text x="501.2" y="475.214" font-family="'Liberation Serif', serif" font-size="10.8" font-weight="bold" font-style="normal" text-anchor="middle" fill="#000" >EQU24_12645</text>
<text x="553.625" y="475.214" font-family="'Liberation Serif', serif" font-size="10.8" font-weight="bold" font-style="normal" text-anchor="middle" fill="#000" >2.33</text>
<text x="590.875" y="475.214" font-family="'Liberation Serif', serif" font-size="10.8" font-weight="bold" font-style="normal" text-anchor="middle" fill="#000" >1.83</text>
<rect x="618.75" y="472.25" width="49.25" height="26.75" fill="#c5e0b4" />
<text x="625.5" y="492.25" font-family="'Liberation Sans', sans-serif" font-size="17" font-weight="bold" font-style="normal" text-anchor="start" fill="#000" >NO<tspan font-size="12.5" dy="3.8">2</tspan><tspan font-size="12.5" dy="-8">-</tspan></text>
<text x="689.6" y="477.5" font-family="'Liberation Serif', serif" font-size="10.8" font-weight="bold" font-style="normal" text-anchor="middle" fill="#000" >NirD</text>
<text x="689.6" y="499.5" font-family="'Liberation Serif', serif" font-size="10.8" font-weight="bold" font-style="normal" text-anchor="middle" fill="#000" >NirB</text>
<line x1="668" y1="486.5" x2="722.5" y2="486.5" stroke="#3a7cc4" stroke-width="2.6" />
<path d="M728.8,486.5 L759.5,486.5 L759.5,227" stroke="#3a7cc4" stroke-width="2.6" fill="none" />
<polygon points="759.50,221.30 763.25,228.50 755.75,228.50" fill="#3a7cc4"/>
<text x="511.9" y="517.25" font-family="'Liberation Sans', sans-serif" font-size="12.3" font-weight="bold" font-style="normal" text-anchor="middle" fill="#000" >Nitrate metabolism</text>
<rect x="786.75" y="454.0" width="37.6" height="15.5" fill="#dae3f3" />
<rect x="823.35" y="454.0" width="36.6" height="15.5" fill="#b4c7e7" />
<text x="772.9" y="465.214" font-family="'Liberation Serif', serif" font-size="10.8" font-weight="bold" font-style="normal" text-anchor="middle" fill="#000" >NirD</text>
<text x="805.05" y="465.214" font-family="'Liberation Serif', serif" font-size="10.8" font-weight="bold" font-style="normal" text-anchor="middle" fill="#000" >1.02</text>
<text x="841.65" y="465.214" font-family="'Liberation Serif', serif" font-size="10.8" font-weight="bold" font-style="normal" text-anchor="middle" fill="#000" >1.54</text>
<rect x="786.75" y="468.5" width="37.6" height="14.5" fill="#dae3f3" />
<rect x="823.35" y="468.5" width="36.6" height="14.5" fill="#f2f2f2" />
<text x="772.9" y="479.714" font-family="'Liberation Serif', serif" font-size="10.8" font-weight="bold" font-style="normal" text-anchor="middle" fill="#000" >NirB</text>
<text x="805.05" y="479.714" font-family="'Liberation Serif', serif" font-size="10.8" font-weight="bold" font-style="normal" text-anchor="middle" fill="#000" >1.18</text>
<text x="841.65" y="479.714" font-family="'Liberation Serif', serif" font-size="10.8" font-weight="bold" font-style="normal" text-anchor="middle" fill="#000" >-</text>
</svg>
</body></html>
